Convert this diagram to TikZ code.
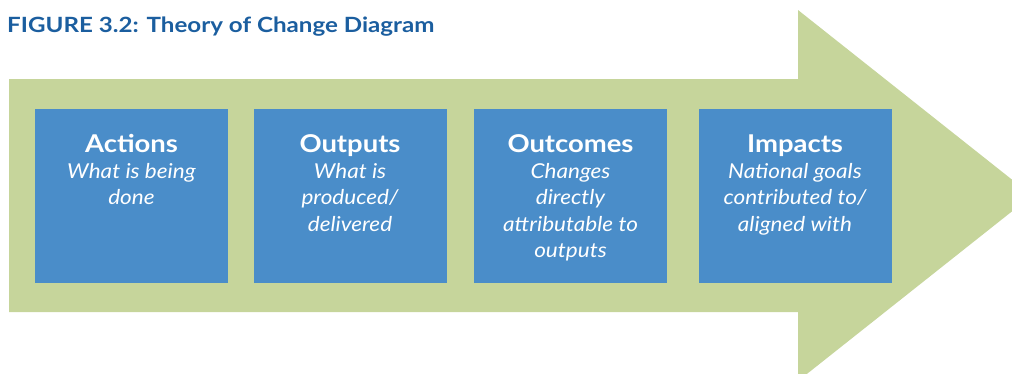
\documentclass[tikz,border=0pt]{standalone}
\usepackage{fontspec}
\setmainfont{Lato}
\newfontfamily\figtitlefont[FakeStretch=1.15]{Lato}
\newfontfamily\stageheadfont[FakeStretch=1.12]{Lato}
\newfontfamily\stagesubfont[FakeStretch=1.1]{Lato}
\definecolor{arrowgreen}{HTML}{C6D59B}
\definecolor{boxblue}{HTML}{4A8DC9}
\definecolor{titleblue}{HTML}{1B5E9F}
\tikzset{
  stagebox/.style={fill=boxblue, draw=none, inner sep=0pt, minimum width=193pt, minimum height=174pt, anchor=north west},
  stagehead/.style={text=white, inner sep=0pt, anchor=base, font=\stageheadfont\fontsize{24.5}{28}\selectfont\bfseries},
  stagesub/.style={text=white, inner sep=0pt, anchor=base, font=\stagesubfont\fontsize{20.5}{26.6}\selectfont\itshape},
}
\newcommand{\sublines}[1]{\begin{tabular}[t]{@{}c@{}}#1\end{tabular}}
\begin{document}
\begin{tikzpicture}[x=1pt,y=-1pt]
\useasboundingbox (0,0) rectangle (1012,373);
\clip (0,0) rectangle (1012,373);
\fill[arrowgreen] (9,79) -- (798,79) -- (798,10) -- (1032,195.5) -- (798,381) -- (798,312) -- (9,312) -- cycle;
\node[anchor=base west, inner sep=0pt, text=titleblue, font=\figtitlefont\fontsize{21}{24}\selectfont\bfseries] (title) at (7,32) {FIGURE 3.2: Theory of Change Diagram};

\node[stagebox] (b1) at (35,109) {};
\node[stagebox] (b2) at (254,109) {};
\node[stagebox] (b3) at (474,109) {};
\node[stagebox] (b4) at (699,109) {};

\node[stagehead] (h1) at (131.5,152) {Actions};
\node[stagehead] (h2) at (350,152) {Outputs};
\node[stagehead] (h3) at (570.5,152) {Outcomes};
\node[stagehead] (h4) at (795,152) {Impacts};

\node[stagesub] (s1) at (131.5,178) {\sublines{What is being\\done}};
\node[stagesub] (s2) at (350,178) {\sublines{What is\\produced/\\delivered}};
\node[stagesub] (s3) at (570.5,178) {\sublines{Changes\\directly\\attributable to\\outputs}};
\node[stagesub] (s4) at (795,178) {\sublines{National goals\\contributed to/\\aligned with}};
\end{tikzpicture}
\end{document}
